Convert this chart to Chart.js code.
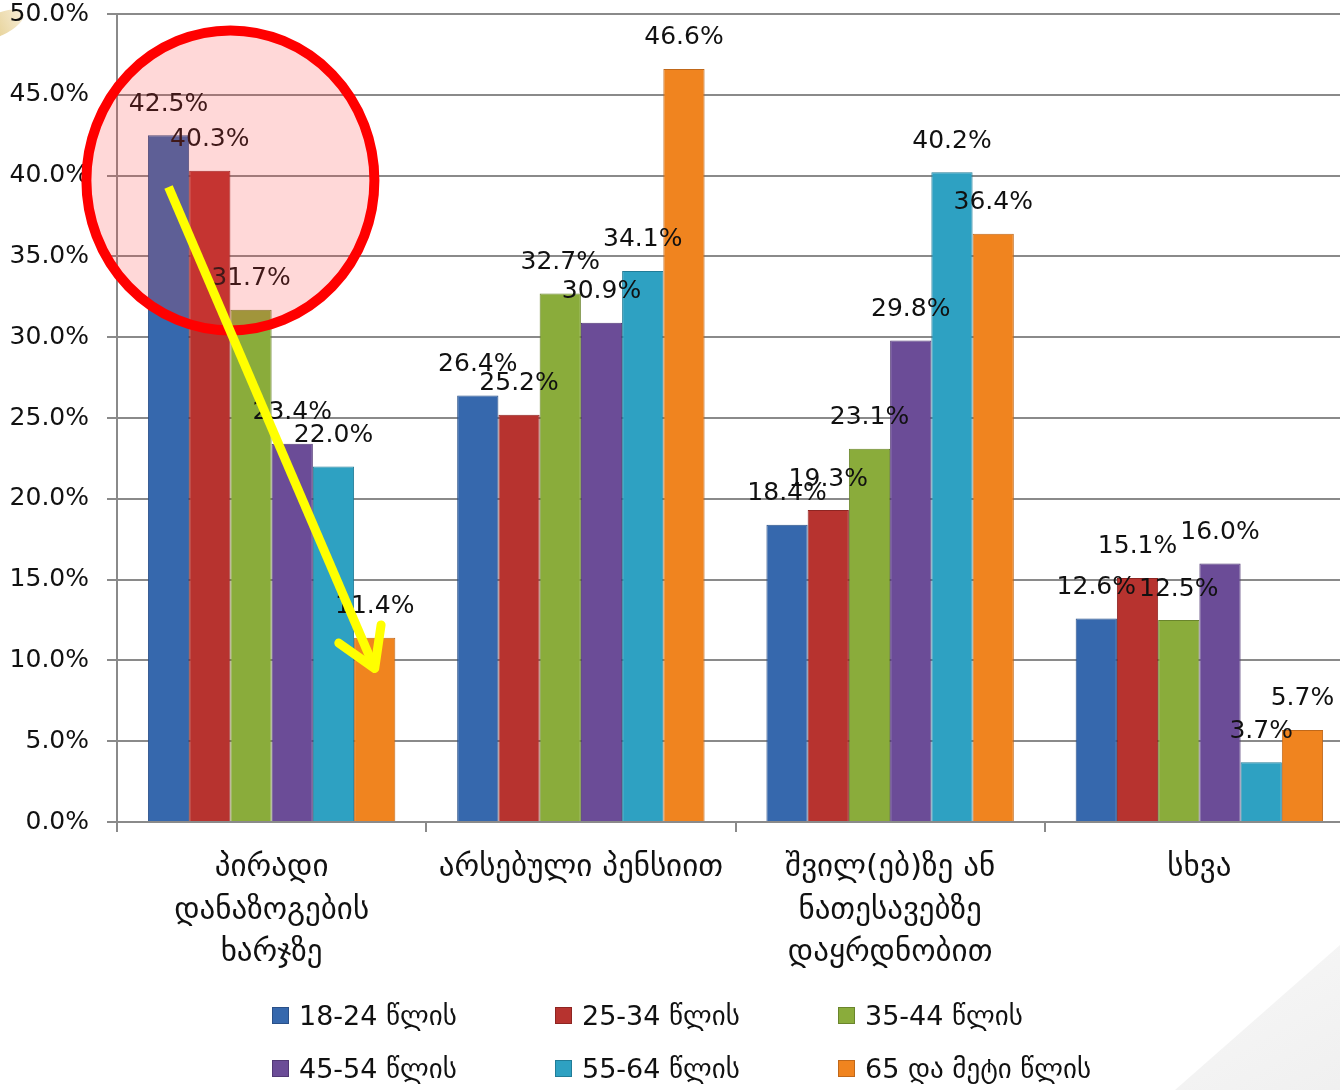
<!DOCTYPE html>
<html>
<head>
<meta charset="utf-8">
<script src="https://cdn.jsdelivr.net/npm/chart.js@4.4.1/dist/chart.umd.min.js"></script>
<style>
  html, body { margin: 0; padding: 0; background: #ffffff; overflow: hidden; width: 1340px; height: 1090px; }
  #deco1 { position: absolute; left: 0; top: 0; width: 1340px; height: 1090px; background: linear-gradient(150deg, rgba(255,255,255,0) 75%, rgba(236,236,236,0.8) 100%); clip-path: polygon(1340px 945px, 1340px 1090px, 1175px 1090px); }
  #deco2 { position: absolute; left: -30px; top: 14px; width: 56px; height: 22px; border-radius: 50%; background: linear-gradient(90deg, #d6b656, #f6ead0); transform: rotate(-25deg); opacity: 0.85; }
  #wrap { position: absolute; left: 0; top: 0; width: 1354px; height: 1090px; }
  #legend { position: absolute; left: 272px; top: 989px; display: grid; grid-template-columns: 283px 283px 300px; grid-auto-rows: 53px; font-family: "DejaVu Sans", sans-serif; font-size: 27px; color: #111; }
  #legend .item { display: flex; align-items: center; white-space: nowrap; }
  #legend .box { width: 17px; height: 17px; margin-right: 10px; box-sizing: border-box; }
</style>
</head>
<body>
<div id="deco1"></div>
<div id="deco2"></div>
<div id="wrap"><canvas id="c"></canvas></div>
<div id="legend"></div>
<script>
const categories = [
  ["პირადი", "დანაზოგების", "ხარჯზე"],
  ["არსებული პენსიით"],
  ["შვილ(ებ)ზე ან", "ნათესავებზე", "დაყრდნობით"],
  ["სხვა"]
];
const seriesNames = ["18-24 წლის", "25-34 წლის", "35-44 წლის", "45-54 წლის", "55-64 წლის", "65 და მეტი წლის"];
const age18_24 = [42.5, 26.4, 18.4, 12.6];
const age25_34 = [40.3, 25.2, 19.3, 15.1];
const age35_44 = [31.7, 32.7, 23.1, 12.5];
const age45_54 = [23.4, 30.9, 29.8, 16.0];
const age55_64 = [22.0, 34.1, 40.2, 3.7];
const age65plus = [11.4, 46.6, 36.4, 5.7];
const yTicks = [0, 5, 10, 15, 20, 25, 30, 35, 40, 45, 50];

const seriesValues = [age18_24, age25_34, age35_44, age45_54, age55_64, age65plus];
const colors = ["#3668ad", "#b7332f", "#8aac3b", "#6b4c97", "#2ea1c2", "#f0841f"];
const borders = ["#2a5088", "#8e2522", "#6a852c", "#513875", "#217c97", "#c0681a"];

const labelFont = '25px "DejaVu Sans", sans-serif';

const valueLabels = {
  id: 'valueLabels',
  afterDatasetsDraw(chart) {
    const ctx = chart.ctx;
    ctx.save();
    ctx.font = labelFont;
    ctx.fillStyle = '#111';
    ctx.textAlign = 'center';
    ctx.textBaseline = 'middle';
    chart.data.datasets.forEach((ds, di) => {
      const meta = chart.getDatasetMeta(di);
      meta.data.forEach((bar, i) => {
        ctx.fillText(ds.data[i].toFixed(1) + '%', bar.x, bar.y - 31);
      });
    });
    ctx.restore();
  }
};

const annotation = {
  id: 'annotation',
  afterDatasetsDraw(chart) {
    const ctx = chart.ctx;
    const y = chart.scales.y;
    const b0 = chart.getDatasetMeta(0).data[0];
    const b1 = chart.getDatasetMeta(1).data[0];
    const b5 = chart.getDatasetMeta(5).data[0];
    const cx = (b1.x + b1.width / 2);
    const cy = y.getPixelForValue(39.7);
    ctx.save();
    ctx.beginPath();
    ctx.ellipse(cx, cy, 144, 150, 0, 0, Math.PI * 2);
    ctx.fillStyle = 'rgba(255, 60, 60, 0.2)';
    ctx.fill();
    ctx.lineWidth = 10;
    ctx.strokeStyle = '#ff0000';
    ctx.stroke();
    const x1 = b0.x, y1 = y.getPixelForValue(39.3);
    const x2 = b5.x, y2 = y.getPixelForValue(9.5);
    ctx.strokeStyle = '#ffff00';
    ctx.lineWidth = 9;
    ctx.lineCap = 'butt';
    ctx.beginPath();
    ctx.moveTo(x1, y1);
    ctx.lineTo(x2, y2);
    ctx.stroke();
    const ang = Math.atan2(y2 - y1, x2 - x1);
    const L = 44, spread = 0.55;
    ctx.lineCap = 'round';
    ctx.lineJoin = 'round';
    ctx.beginPath();
    ctx.moveTo(x2 - L * Math.cos(ang - spread), y2 - L * Math.sin(ang - spread));
    ctx.lineTo(x2, y2);
    ctx.lineTo(x2 - L * Math.cos(ang + spread), y2 - L * Math.sin(ang + spread));
    ctx.stroke();
    ctx.restore();
  }
};

const chart = new Chart(document.getElementById('c'), {
  type: 'bar',
  data: {
    labels: categories,
    datasets: seriesNames.map((n, i) => ({
      label: n,
      data: seriesValues[i],
      backgroundColor: colors[i],
      borderColor: borders[i],
      borderWidth: 1,
      categoryPercentage: 0.8,
      barPercentage: 1.0
    }))
  },
  options: {
    responsive: true,
    maintainAspectRatio: false,
    animation: false,
    layout: { padding: { top: 14, left: 0, right: 0, bottom: 0 } },
    plugins: { legend: { display: false }, tooltip: { enabled: false } },
    scales: {
      x: {
        grid: { display: true, drawOnChartArea: false, drawTicks: true, tickLength: 10, offset: true, color: '#8a8a8a', lineWidth: 2 },
        border: { display: true, color: '#8a8a8a', width: 2 },
        ticks: {
          font: { family: '"DejaVu Sans", sans-serif', size: 31, lineHeight: 1.37 },
          color: '#111',
          maxRotation: 0,
          autoSkip: false,
          padding: 15
        },
        afterFit(s) { s.height = 268; s.paddingLeft = 0; s.paddingRight = 0; }
      },
      y: {
        min: 0,
        max: 50,
        afterBuildTicks(s) { s.ticks = yTicks.map(v => ({ value: v })); },
        grid: { color: '#8a8a8a', lineWidth: 2, tickLength: 10, drawTicks: true },
        border: { display: true, color: '#8a8a8a', width: 2 },
        ticks: {
          font: { family: '"DejaVu Sans", sans-serif', size: 25 },
          color: '#111',
          padding: 18,
          callback: v => v.toFixed(1) + '%'
        },
        afterFit(s) { s.width = 117; s.paddingTop = 0; s.paddingBottom = 0; }
      }
    }
  },
  plugins: [valueLabels, annotation]
});

const legend = document.getElementById('legend');
seriesNames.forEach((n, i) => {
  const it = document.createElement('div');
  it.className = 'item';
  const b = document.createElement('span');
  b.className = 'box';
  b.style.background = colors[i];
  b.style.border = '1px solid ' + borders[i];
  const t = document.createElement('span');
  t.textContent = n;
  it.appendChild(b);
  it.appendChild(t);
  legend.appendChild(it);
});
</script>
</body>
</html>
